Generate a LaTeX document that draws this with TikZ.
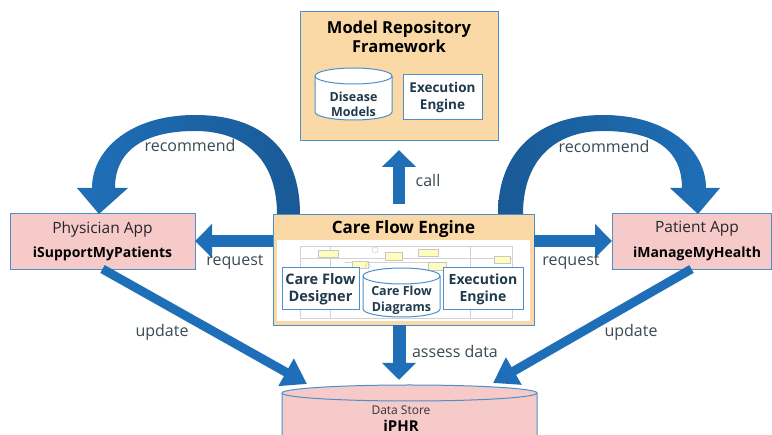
\documentclass[tikz,border=0pt]{standalone}
\usepackage{fontspec}
\setmainfont{Open Sans}
\usetikzlibrary{arrows.meta,calc}
\definecolor{orfill}{HTML}{FAD9A6}
\definecolor{pkfill}{HTML}{F7CACA}
\definecolor{bdblue}{HTML}{4F8FC8}
\definecolor{arblue}{HTML}{1F6FB8}
\definecolor{ardark}{HTML}{195A96}
\definecolor{lbl}{HTML}{3A4A52}
\definecolor{boxtxt}{HTML}{1E3A4C}
\tikzset{
  framebox/.style={draw=bdblue, line width=0.8pt, inner sep=0pt, outer sep=0pt},
  obox/.style={framebox, fill=orfill},
  pbox/.style={framebox, fill=pkfill},
  wbox/.style={framebox, fill=white, line width=1pt},
  cyl/.style={draw=bdblue, line width=1pt},
  bigtitle/.style={font=\fontsize{16.5}{19}\selectfont\bfseries, text=black, align=center, inner sep=0pt},
  smalltxt/.style={font=\fontsize{13.5}{16.5}\selectfont\bfseries, text=boxtxt, align=center, inner sep=0pt},
  apptxt/.style={font=\fontsize{15.5}{17}\selectfont, text=black!85, inner sep=0pt},
  appbold/.style={font=\fontsize{14}{17}\selectfont\bfseries, text=black, inner sep=0pt},
  lab/.style={font=\fontsize{16}{18}\selectfont, text=lbl, inner sep=0pt},
  blockarrow/.style={draw=arblue, line width=12pt, -{Triangle[width=33pt,length=17pt]}},
  updarrow/.style={draw=arblue, line width=9pt, -{Triangle[width=30pt,length=24pt]}},
  faint/.style={draw=gray!35, line width=0.5pt},
  faintbox/.style={draw=gray!45, fill=yellow!25, line width=0.4pt},
}
\begin{document}
\begin{tikzpicture}[x=1pt,y=-1pt]
\useasboundingbox (0,0) rectangle (772,435);
\fill[white] (0,0) rectangle (772,435);

% ---------- Model Repository Framework ----------
\node[obox, minimum width=198pt, minimum height=129pt] (mrf) at (399,75.5) {};
\node[bigtitle] (mrft) at (399,36.5) {Model Repository\\Framework};
% Disease Models cylinder
\filldraw[cyl, fill=white] (315,76) -- (315,112) arc[start angle=180, end angle=0, x radius=38.5, y radius=8] -- (392,76) arc[start angle=0, end angle=-180, x radius=38.5, y radius=8] -- cycle;
\draw[cyl] (315,76) arc[start angle=180, end angle=0, x radius=38.5, y radius=8];
\node[smalltxt, font=\fontsize{12.5}{15}\selectfont\bfseries] (dm) at (353.5,104.5) {Disease\\Models};
\node[wbox, minimum width=79pt, minimum height=45pt] (mee) at (442.5,97.5) {};
\node[smalltxt] at (mee) {Execution\\Engine};

% ---------- Care Flow Engine ----------
\node[obox, minimum width=261pt, minimum height=111pt] (cfe) at (403.5,269.5) {};
\fill[white] (277,240) rectangle (530,321);
\node[bigtitle, font=\fontsize{17}{19}\selectfont\bfseries] (cfet) at (403.5,229) {Care Flow Engine};
% faint background diagram
\draw[faint] (300,246) rectangle (512,318);
\draw[faint] (300,258) -- (512,258);
\draw[faint] (330,246) -- (330,318);
\draw[faint] (470,246) -- (470,318);
\draw[faint] (345,262) -- (430,262) -- (430,275);
\draw[faintbox] (318,250) rectangle (338,257);
\draw[faintbox] (352,261) rectangle (368,268);
\draw[faintbox] (385,252) rectangle (402,260);
\draw[faintbox] (418,249) rectangle (438,256);
\draw[faintbox] (428,262) rectangle (446,270);
\draw[faintbox] (494,256) rectangle (510,263);
\draw[faint] (375,250) circle[radius=3];
\draw[faint] (368,266) circle[radius=2.5];
% inner parts
\node[wbox, minimum width=77pt, minimum height=42pt] (cfd) at (320.5,289) {};
\node[smalltxt, font=\fontsize{14.5}{17}\selectfont\bfseries] at (cfd) {Care Flow\\Designer};
\filldraw[cyl, fill=white] (363,276) -- (363,309) arc[start angle=180, end angle=0, x radius=38.5, y radius=8] -- (440,276) arc[start angle=0, end angle=-180, x radius=38.5, y radius=8] -- cycle;
\draw[cyl] (363,276) arc[start angle=180, end angle=0, x radius=38.5, y radius=8];
\node[smalltxt, font=\fontsize{12.5}{16.5}\selectfont\bfseries] (cfdg) at (401.5,300.5) {Care Flow\\Diagrams};
\node[wbox, minimum width=80pt, minimum height=42pt] (cee) at (483,289) {};
\node[smalltxt, font=\fontsize{14}{17}\selectfont\bfseries] at (cee) {Execution\\Engine};

% ---------- Apps ----------
\node[pbox, minimum width=185pt, minimum height=56pt] (pa) at (102.5,241) {};
\node[apptxt] at (102.5,229) {Physician App};
\node[appbold] at (102.5,254) {iSupportMyPatients};
\node[pbox, minimum width=159pt, minimum height=56pt] (pt) at (691.5,241) {};
\node[apptxt] at (697,229) {Patient App};
\node[appbold] at (697,254) {iManageMyHealth};

% ---------- Data Store ----------
\filldraw[cyl, fill=pkfill] (282,393) -- (282,440) -- (537,440) -- (537,393) arc[start angle=0, end angle=-180, x radius=127.5, y radius=8] -- cycle;
\draw[cyl] (282,393) arc[start angle=180, end angle=0, x radius=127.5, y radius=8];
\node[inner sep=0pt, minimum width=255pt, minimum height=50pt] (ds) at (409.5,410) {};
\node[font=\fontsize{12}{13}\selectfont, text=black!80, inner sep=0pt] at (401,410.5) {Data Store};
\node[font=\fontsize{15}{17}\selectfont\bfseries, text=black, inner sep=0pt] at (401,425.5) {iPHR};
\coordinate (dsL) at (307,384);
\coordinate (dsR) at (493,383);

% ---------- straight arrows ----------
\draw[blockarrow] ($(cfe.north -| mrf.south)+(0,-10)$) -- ($(mrf.south)+(0,10)$);
\draw[blockarrow] (pa.east -| cfe.west) -- (pa.east);
\draw[blockarrow] (pt.west -| cfe.east) -- (pt.west);
\draw[blockarrow, line width=13pt] (cfe.south -| mrf.south) -- ($(mrf.south |- ds.north)+(0,-5)$);
\draw[updarrow] (pa.south) -- (dsL);
\draw[updarrow] (pt.south) -- (dsR);

% ---------- curved recommend arrows ----------
\path[left color=arblue, right color=ardark]
  (300,214) .. controls (300,150) and (262,115) .. (195,115)
  .. controls (130,115) and (92,150) .. (92,188)
  -- (77,188) -- (99,214) -- (128,188) -- (115,188)
  .. controls (115,150) and (145,131) .. (195,131)
  .. controls (245,131) and (277,160) .. (277,214) -- cycle;
\path[left color=ardark, right color=arblue]
  (498,214) .. controls (498,150) and (540,115) .. (603,115)
  .. controls (668,115) and (706,150) .. (706,188)
  -- (720,188) -- (698,214) -- (670,188) -- (682,188)
  .. controls (682,150) and (655,131) .. (603,131)
  .. controls (555,131) and (523,160) .. (523,214) -- cycle;

% ---------- labels ----------
\node[lab] at (190,146) {recommend};
\node[lab] at (604,147) {recommend};
\node[lab] at (428,181) {call};
\node[lab] at (235,262) {request};
\node[lab] at (571,262) {request};
\node[lab] at (162,332) {update};
\node[lab] at (631,332) {update};
\node[lab] at (455,352) {assess data};
\end{tikzpicture}
\end{document}
